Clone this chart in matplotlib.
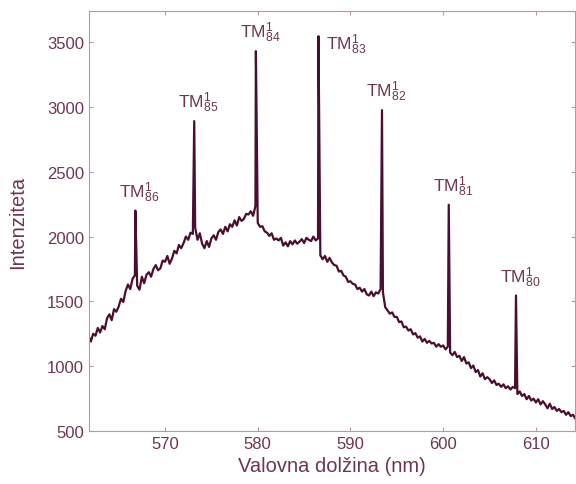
import matplotlib
matplotlib.use("Agg")
import matplotlib.pyplot as plt
import numpy as np

plt.rcParams['font.family'] = ['Liberation Sans', 'DejaVu Sans']
plt.rcParams['mathtext.fontset'] = 'custom'
plt.rcParams['mathtext.rm'] = 'Liberation Sans'
plt.rcParams['mathtext.it'] = 'Liberation Sans'

# baseline spectrum, 0.25 nm steps starting at 561.0 nm (one row per nm)
start_nm = 561.0
step_nm = 0.25
baseline = [
    1165, 1215, 1200, 1235,  # 561
    1190, 1250, 1235, 1295,  # 562
    1260, 1310, 1285, 1370,  # 563
    1400, 1355, 1440, 1420,  # 564
    1460, 1520, 1495, 1580,  # 565
    1630, 1595, 1675, 1700,  # 566
    1620, 1590, 1690, 1640,  # 567
    1705, 1725, 1690, 1750,  # 568
    1780, 1740, 1755, 1815,  # 569
    1805, 1850, 1790, 1830,  # 570
    1890, 1870, 1935, 1910,  # 571
    1950, 2000, 1975, 2030,  # 572
    2020, 2070, 1975, 2025,  # 573
    1945, 1910, 1965, 1920,  # 574
    1985, 2010, 1975, 2035,  # 575
    2055, 2020, 2075, 2040,  # 576
    2095, 2075, 2125, 2085,  # 577
    2150, 2120, 2135, 2175,  # 578
    2170, 2195, 2160, 2235,  # 579
    2105, 2075, 2080, 2040,  # 580
    2030, 2005, 2025, 1975,  # 581
    1985, 1970, 1990, 1930,  # 582
    1955, 1925, 1965, 1940,  # 583
    1970, 1945, 1960, 1980,  # 584
    1950, 1990, 1975, 1965,  # 585
    2000, 1970, 1985, 1855,  # 586
    1825, 1850, 1805, 1835,  # 587
    1800, 1780, 1775, 1730,  # 588
    1735, 1700, 1690, 1650,  # 589
    1655, 1635, 1630, 1595,  # 590
    1605, 1575, 1595, 1555,  # 591
    1545, 1575, 1540, 1570,  # 592
    1560, 1595, 1570, 1455,  # 593
    1430, 1405, 1415, 1380,  # 594
    1380, 1340, 1345, 1300,  # 595
    1305, 1275, 1285, 1245,  # 596
    1255, 1220, 1230, 1190,  # 597
    1210, 1180, 1195, 1175,  # 598
    1180, 1150, 1170, 1150,  # 599
    1160, 1130, 1150, 1105,  # 600
    1085, 1110, 1070, 1080,  # 601
    1040, 1070, 1020, 1030,  # 602
    985, 1005, 955, 970,     # 603
    920, 945, 900, 915,      # 604
    900, 870, 890, 855,      # 605
    865, 840, 860, 830,      # 606
    845, 820, 840, 830,      # 607
    785, 805, 770, 785,      # 608
    745, 770, 735, 750,      # 609
    720, 745, 705, 730,      # 610
    705, 675, 710, 670,      # 611
    685, 655, 670, 645,      # 612
    655, 625, 645, 615,      # 613
    625, 595, 620, 585,      # 614
    595,                     # 615
]

# TM modes
peak_nm = [566.8, 573.15, 579.8, 586.55, 593.4, 600.6, 607.85]
peak_top = [2200, 2890, 3430, 3545, 2975, 2245, 1545]
peak_order = ['86', '85', '84', '83', '82', '81', '80']

base_nm = start_nm + step_nm * np.arange(len(baseline))
wl = np.concatenate([base_nm, peak_nm])
inten = np.concatenate([baseline, peak_top])
idx = np.argsort(wl)
wl, inten = wl[idx], inten[idx]

line_col = '#4a0f2e'
text_col = '#6e3552'
axis_col = '#b995a8'

fig = plt.figure(figsize=(5.76, 4.85), dpi=100)
ax = fig.add_axes([0.1545, 0.1093, 0.8435, 0.866])
ax.plot(wl, inten, color=line_col, lw=1.6)

for x, y, n in zip(peak_nm, peak_top, peak_order):
    off = (20, -14) if n == '83' else (3, 5)
    ax.annotate('TM$^{1}_{%s}$' % n, (x, y), xytext=off,
                textcoords='offset points', ha='center', va='bottom',
                fontsize=12.5, color=text_col)

ax.set_xlim(561.8, 614.2)
ax.set_ylim(500, 3740)
ax.set_xticks([570, 580, 590, 600, 610])
ax.set_yticks([500, 1000, 1500, 2000, 2500, 3000, 3500])
ax.tick_params(direction='in', top=True, right=True, length=3,
               color=axis_col, labelcolor=text_col, labelsize=12)
for s in ax.spines.values():
    s.set_color(axis_col)
ax.set_xlabel('Valovna dolžina (nm)', fontsize=14.5, color=text_col, labelpad=4)
ax.set_ylabel('Intenziteta', fontsize=14.5, color=text_col, labelpad=14)

fig.savefig('out.png', dpi=100)
